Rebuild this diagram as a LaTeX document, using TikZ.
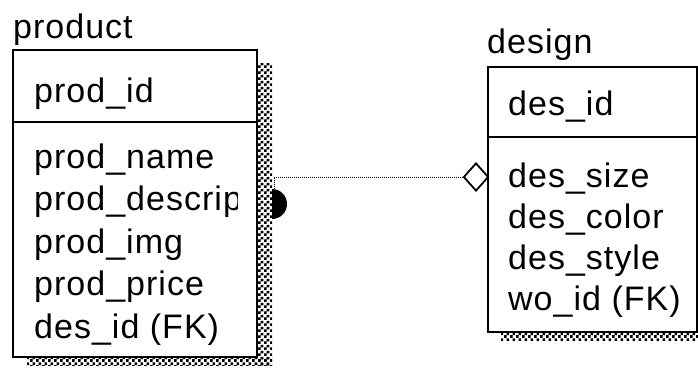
\documentclass[tikz,border=0pt]{standalone}
\usepackage{fontspec}
\setmainfont[LetterSpace=3]{Liberation Sans}
\usetikzlibrary{patterns,shapes.geometric}

% checkerboard used for the drop shadows
\pgfdeclarepatternformonly{finechecker}{\pgfpointorigin}{\pgfpoint{6pt}{6pt}}{\pgfpoint{6pt}{6pt}}{%
  \pgfpathrectangle{\pgfpointorigin}{\pgfpoint{3pt}{3pt}}%
  \pgfpathrectangle{\pgfpoint{3pt}{3pt}}{\pgfpoint{3pt}{3pt}}%
  \pgfusepath{fill}}

\tikzset{
  entity/.style={draw=black, line width=1.8pt, fill=white},
  shadowfill/.style={pattern=finechecker, pattern color=black},
  label/.style={anchor=base west, inner sep=0pt, font=\fontsize{34}{40}\selectfont},
  title/.style={anchor=base west, inner sep=0pt, font=\fontsize{34}{40}\selectfont},
  relline/.style={line width=0.8pt, dash pattern=on 1pt off 1pt},
}

\begin{document}
\begin{tikzpicture}[x=1pt, y=-1pt]
  \useasboundingbox (0,0) rectangle (698,367);

  % ---------- product entity ----------
  \fill[shadowfill] (257,63) rectangle (272,365);
  \fill[shadowfill] (27,357) rectangle (272,365);
  \draw[entity] (13,50) rectangle (257,357);
  \draw[line width=1.8pt] (13,122) -- (257,122);
  \node[title] (prodtitle) at (13,38) {product};
  \node[label] (prodid)    at (34,102) {prod\_id};
  \node[label] (prodname)  at (34,168) {prod\_name};
  \begin{scope}
    % long attribute names are cut off at the text margin
    \clip (13,50) rectangle (237,357);
    \node[label] (proddesc) at (34,210) {prod\_description};
  \end{scope}
  \node[label] (prodimg)   at (34,253) {prod\_img};
  \node[label] (prodprice) at (34,295) {prod\_price};
  \node[label] (proddesid) at (34,338) {des\_id (FK)};

  % ---------- design entity ----------
  \fill[shadowfill] (501,332) rectangle (710,340);
  \fill[shadowfill] (697,80) rectangle (710,340);
  \draw[entity] (488,67) rectangle (697,332);
  \draw[line width=1.8pt] (488,137) -- (697,137);
  \node[title] (destitle) at (487,53) {design};
  \node[label] (desid)    at (508,115) {des\_id};
  \node[label] (dessize)  at (508,187) {des\_size};
  \node[label] (descolor) at (508,228) {des\_color};
  \node[label] (desstyle) at (508,269) {des\_style};
  \node[label] (deswoid)  at (508,310) {wo\_id (FK)};

  % ---------- relationship ----------
  \coordinate (bend) at (274,177);
  \coordinate (dotend) at (274,189);
  \node[diamond, draw=black, line width=1.8pt, fill=white, inner sep=0pt,
        minimum width=25pt, minimum height=28pt] (opt) at (476,177) {};
  \draw[relline] (opt.west) -- (bend) -- (dotend);
  \fill[black] (272,189) arc[start angle=90, end angle=-90, radius=15pt] -- cycle;
\end{tikzpicture}
\end{document}
